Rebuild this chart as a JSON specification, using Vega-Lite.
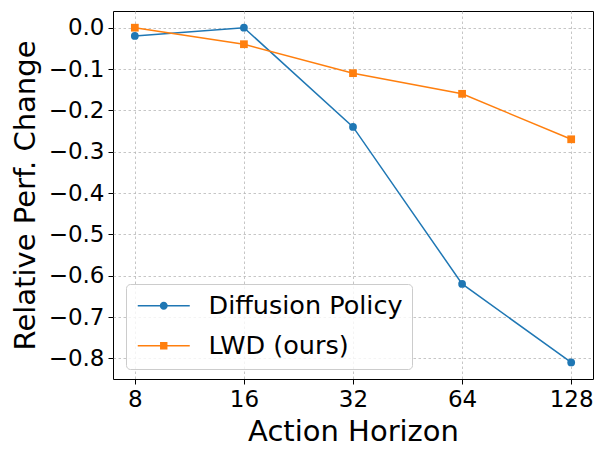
{
  "$schema": "https://vega.github.io/schema/vega-lite/v6.json",
  "autosize": "none",
  "width": 480,
  "height": 368,
  "padding": {"left": 113, "top": 11, "right": 16, "bottom": 78},
  "background": "white",
  "config": {
    "font": "DejaVu Sans",
    "view": {"stroke": "#000000", "strokeWidth": 1},
    "axis": {
      "labelFont": "DejaVu Sans",
      "titleFont": "DejaVu Sans",
      "labelFontSize": 23,
      "titleFontSize": 29,
      "titleFontWeight": "normal",
      "labelColor": "#000000",
      "titleColor": "#000000",
      "tickColor": "#000000",
      "tickSize": 5,
      "tickWidth": 1,
      "domain": false,
      "gridColor": "#b8b8b8",
      "gridDash": [2.5, 2.5],
      "gridWidth": 0.8
    }
  },
  "data": {
    "values": [
      {"h": 8, "v": -0.02, "s": "Diffusion Policy"},
      {"h": 16, "v": 0.0, "s": "Diffusion Policy"},
      {"h": 32, "v": -0.24, "s": "Diffusion Policy"},
      {"h": 64, "v": -0.62, "s": "Diffusion Policy"},
      {"h": 128, "v": -0.81, "s": "Diffusion Policy"},
      {"h": 8, "v": 0.0, "s": "LWD (ours)"},
      {"h": 16, "v": -0.04, "s": "LWD (ours)"},
      {"h": 32, "v": -0.11, "s": "LWD (ours)"},
      {"h": 64, "v": -0.16, "s": "LWD (ours)"},
      {"h": 128, "v": -0.27, "s": "LWD (ours)"}
    ]
  },
  "encoding": {
    "x": {
      "field": "h",
      "type": "quantitative",
      "scale": {"type": "log", "base": 2, "domain": [6.964, 147.03], "nice": false},
      "axis": {"values": [8, 16, 32, 64, 128], "format": "d", "title": "Action Horizon", "labelPadding": 4, "titlePadding": 6, "labelFlush": false}
    },
    "y": {
      "field": "v",
      "type": "quantitative",
      "scale": {"domain": [-0.85, 0.0404], "nice": false, "zero": false},
      "axis": {
        "values": [-0.8, -0.7, -0.6, -0.5, -0.4, -0.3, -0.2, -0.1, 0.0],
        "labelExpr": "replace(format(datum.value, '.1f'), '-', '−')",
        "title": "Relative Perf. Change",
        "labelPadding": 4,
        "titlePadding": 8
      }
    }
  },
  "layer": [
    {
      "mark": {"type": "line", "strokeWidth": 1.5},
      "encoding": {
        "color": {"field": "s", "type": "nominal", "scale": {"domain": ["Diffusion Policy", "LWD (ours)"], "range": ["#1f77b4", "#ff7f0e"]}, "legend": null}
      }
    },
    {
      "mark": {"type": "point", "filled": true, "opacity": 1, "size": 60},
      "encoding": {
        "color": {"field": "s", "type": "nominal", "scale": {"domain": ["Diffusion Policy", "LWD (ours)"], "range": ["#1f77b4", "#ff7f0e"]}, "legend": null},
        "shape": {"field": "s", "type": "nominal", "scale": {"domain": ["Diffusion Policy", "LWD (ours)"], "range": ["circle", "square"]}, "legend": null}
      }
    },
    {
      "transform": [{"filter": "false"}],
      "mark": {"type": "point", "filled": true, "opacity": 1},
      "encoding": {
        "color": {"field": "s", "type": "nominal", "scale": {"domain": ["Diffusion Policy", "LWD (ours)"], "range": ["#1f77b4", "#ff7f0e"]}, "legend": {"title": null}},
        "shape": {
          "field": "s",
          "type": "nominal",
          "scale": {
            "domain": ["Diffusion Policy", "LWD (ours)"],
            "range": [
              "M-2.6,-0.075L2.6,-0.075L2.6,0.075L-2.6,0.075Z M0.4,0A0.4,0.4 0 1,1 -0.4,0A0.4,0.4 0 1,1 0.4,0Z",
              "M-2.6,-0.075L2.6,-0.075L2.6,0.075L-2.6,0.075Z M-0.37,-0.37L0.37,-0.37L0.37,0.37L-0.37,0.37Z"
            ]
          },
          "legend": {
            "title": null,
            "orient": "none",
            "legendX": 13,
            "legendY": 273,
            "symbolSize": 400,
            "symbolOffset": 16,
            "symbolStrokeWidth": 0,
            "symbolOpacity": 1,
            "labelFont": "DejaVu Sans",
            "labelFontSize": 25.5,
            "labelColor": "#000000",
            "labelLimit": 400,
            "labelOffset": 32,
            "rowPadding": 13,
            "padding": 9,
            "fillColor": "rgba(255,255,255,0.8)",
            "strokeColor": "#cccccc",
            "cornerRadius": 4
          }
        }
      }
    }
  ],
  "resolve": {"scale": {"color": "independent", "shape": "independent"}}
}
